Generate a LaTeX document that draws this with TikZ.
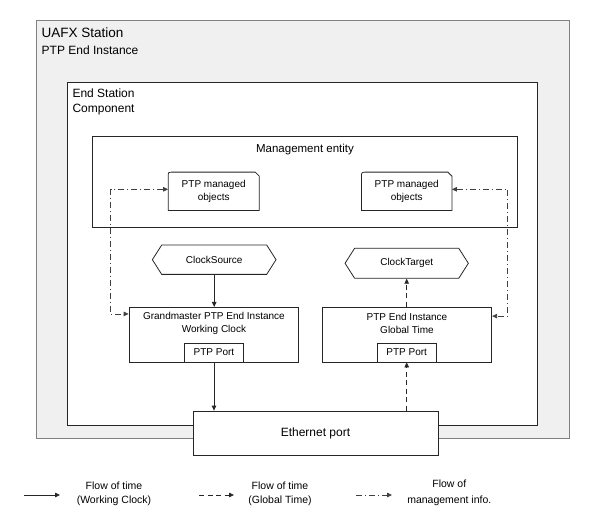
\documentclass[tikz,border=0pt]{standalone}
\usepackage{fontspec}
\setmainfont{Liberation Sans}
\usetikzlibrary{arrows.meta,shapes.symbols}

\begin{document}
\begin{tikzpicture}[x=1pt,y=-1pt, >={Triangle[length=5pt,width=4.5pt]},
	caixa/.style = {draw=black!85, fill=white, line width=0.8pt, inner sep=0pt},
	texto/.style = {inner sep=0pt, font=\fontsize{10}{12.5}\selectfont, align=center},
	hexa/.style = {caixa, shape=signal, signal to=west and east, signal pointer angle=115, font=\fontsize{10}{12.5}\selectfont},
	tempo/.style = {->, line width=0.8pt, black!85},
	global/.style = {tempo, dash pattern=on 5pt off 3.5pt},
	gestao/.style = {tempo, black!75, dash pattern=on 6pt off 3pt on 1pt off 3pt}]
		\useasboundingbox (0,0) rectangle (590,530);

		% stations
		\node[draw=black!50, fill=black!6, line width=0.8pt, minimum width=533pt, minimum height=418pt] (uafx) at (302.5,229.7) {};
		\node[anchor=base west, inner sep=0pt, font=\fontsize{13.5}{16}\selectfont] (uafxa) at (41.5,37.8) {UAFX Station};
		\node[anchor=base west, inner sep=0pt, font=\fontsize{12}{14}\selectfont] (uafxb) at (41.5,54.3) {PTP End Instance};
		\node[caixa, minimum width=470pt, minimum height=343.7pt] (esc) at (302.7,253.9) {};
		\node[anchor=base west, inner sep=0pt, font=\fontsize{12}{14}\selectfont] (esca) at (72.3,97.3) {End Station};
		\node[anchor=base west, inner sep=0pt, font=\fontsize{12}{14}\selectfont] (escb) at (72.3,112) {Component};

		% management entity
		\node[caixa, minimum width=425pt, minimum height=91pt] (me) at (305.2,182.2) {};
		\node[anchor=base, inner sep=0pt, font=\fontsize{11.5}{14}\selectfont] (met) at (305,152.6) {Management entity};
		\node[texto, minimum width=90.7pt, minimum height=38pt] (mo1) at (213.7,191.3) {PTP managed\\objects};
		\node[texto, minimum width=90pt, minimum height=38pt] (mo2) at (406.7,191.3) {PTP managed\\objects};
		\foreach \m in {mo1,mo2}
			\draw[line width=0.8pt, black!85] ([yshift=-5pt]\m.north west) .. controls (\m.north west) .. ([xshift=5pt]\m.north west)
				-- ([xshift=-4pt]\m.north east) -- ([yshift=-4pt]\m.north east) -- (\m.south east) -- (\m.south west) -- cycle;

		% clocks
		\node[hexa, minimum width=123.7pt, minimum height=29.3pt] (cs) at (214.2,259.7) {ClockSource};
		\node[hexa, minimum width=123.3pt, minimum height=30pt] (ct) at (406.7,263.3) {ClockTarget};

		\node[caixa, minimum width=169.7pt, minimum height=54.7pt] (gm) at (213.9,334.7) {};
		\node[texto] (gmt) at (213.9,323.6) {Grandmaster PTP End Instance\\Working Clock};
		\node[caixa, texto, minimum width=58.6pt, minimum height=19pt] (gmport) at (214,352.5) {PTP Port};
		\node[caixa, minimum width=169.4pt, minimum height=55pt] (gt) at (407,334.5) {};
		\node[texto] (gtt) at (407,323.6) {PTP End Instance\\Global Time};
		\node[caixa, texto, minimum width=58.7pt, minimum height=19pt] (gtport) at (406.7,352.5) {PTP Port};

		\node[caixa, minimum width=245pt, minimum height=44pt, font=\fontsize{12}{14}\selectfont] (eth) at (315.5,433) {Ethernet port};

		% flows
		\draw[tempo] (cs.south) -- (cs.south |- gm.north);
		\draw[tempo] (gmport.south) -- (gmport.south |- eth.north);
		\draw[global] (eth.north -| gtport) -- (gtport.south);
		\draw[global] (gt.north -| ct) -- (ct.south);
		\coordinate (ml) at (110.7,250);
		\coordinate (mr) at (507.7,250);
		\draw[gestao, <->] ([yshift=2pt]mo1.west) -| (ml) |- ([yshift=-7pt]gm.north west);
		\draw[gestao, <->] ([yshift=2pt]mo2.east) -| (mr) |- ([yshift=-9.5pt]gt.north east);

		% legend
		\coordinate (l1a) at (24,495);
		\coordinate (l1b) at (60,495);
		\coordinate (l2a) at (199,495);
		\coordinate (l2b) at (234,495);
		\coordinate (l3a) at (356,495);
		\coordinate (l3b) at (392,495);
		\draw[tempo] (l1a) -- (l1b);
		\draw[global] (l2a) -- (l2b);
		\draw[gestao] (l3a) -- (l3b);
		\node[texto, font=\fontsize{10.5}{14.5}\selectfont] (l1) at (114,494) {Flow of time\\(Working Clock)};
		\node[texto, font=\fontsize{10.5}{14.5}\selectfont] (l2) at (280,494) {Flow of time\\(Global Time)};
		\node[texto, font=\fontsize{10.5}{15.5}\selectfont] (l3) at (449.3,493) {Flow of\\management info.};
	\end{tikzpicture}
\end{document}
